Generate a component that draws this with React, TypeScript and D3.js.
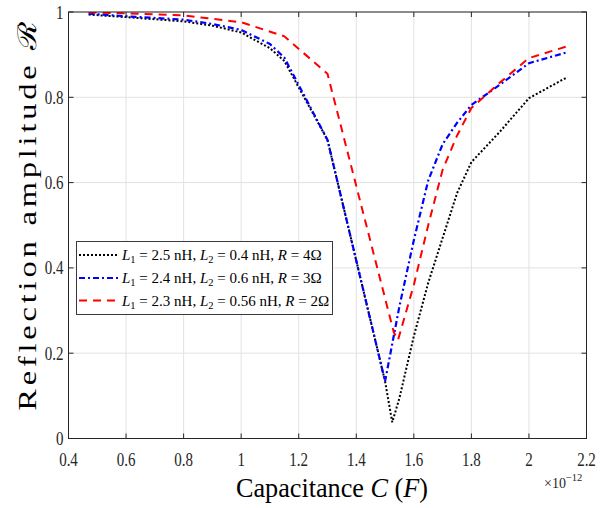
import { useEffect, useRef } from 'react';
import * as d3 from 'd3';

const W = 612;
const H = 508;

// capacitance values are in units of 1e-12 F
const capBlack = [0.47, 0.6, 0.8, 0.9, 1.0, 1.1, 1.15, 1.3, 1.5, 1.525, 1.55, 1.6, 1.65, 1.7, 1.75, 1.8, 1.9, 2.0, 2.13];
const reflBlack = [0.994, 0.988, 0.978, 0.968, 0.952, 0.915, 0.885, 0.7, 0.134, 0.038, 0.095, 0.24, 0.365, 0.47, 0.575, 0.648, 0.72, 0.798, 0.846];

const capBlue = [0.47, 0.6, 0.8, 0.9, 1.0, 1.1, 1.15, 1.3, 1.5, 1.55, 1.6, 1.65, 1.7, 1.75, 1.8, 1.9, 2.0, 2.13];
const reflBlue = [0.996, 0.99, 0.982, 0.972, 0.958, 0.925, 0.893, 0.7, 0.134, 0.31, 0.465, 0.605, 0.69, 0.74, 0.782, 0.83, 0.88, 0.905];

const capRed = [0.47, 0.6, 0.8, 1.0, 1.15, 1.3, 1.53, 1.545, 1.6, 1.65, 1.7, 1.75, 1.8, 1.9, 2.0, 2.13];
const reflRed = [0.999, 0.997, 0.992, 0.976, 0.943, 0.855, 0.25, 0.231, 0.36, 0.5, 0.63, 0.71, 0.775, 0.835, 0.892, 0.919];

const legendL1 = ['2.5', '2.4', '2.3'];
const legendL2 = ['0.4', '0.6', '0.56'];
const legendR = ['4', '3', '2'];

const xTicks = [0.4, 0.6, 0.8, 1, 1.2, 1.4, 1.6, 1.8, 2, 2.2];
const yTicks = [0, 0.2, 0.4, 0.6, 0.8, 1];

const series = [
  { cap: capBlack, refl: reflBlack, color: '#000000', dash: '2,2', width: 2 },
  { cap: capBlue, refl: reflBlue, color: '#0000ff', dash: '6,3,2,3', width: 2.2 },
  { cap: capRed, refl: reflRed, color: '#ff0000', dash: '8,6', width: 2 },
];

const FONT = "'Liberation Serif', 'DejaVu Serif', serif";

export default function App() {
  const svgRef = useRef<SVGSVGElement>(null);

  useEffect(() => {
    if (!svgRef.current) return;
    const svg = d3.select(svgRef.current);
    svg.selectAll('*').remove();

    const axisColor = '#262626';
    const x = d3.scaleLinear().domain([0.4, 2.2]).range([68.5, 586.5]);
    const y = d3.scaleLinear().domain([0, 1]).range([438.5, 12]);
    const [left, right] = x.range();
    const [bottom, top] = y.range();

    svg.append('rect').attr('width', W).attr('height', H).attr('fill', '#fff');

    // grid
    const grid = svg.append('g').attr('stroke', '#e2e2e2').attr('stroke-width', 1);
    xTicks.forEach(t => {
      grid.append('line').attr('x1', x(t)).attr('x2', x(t)).attr('y1', bottom).attr('y2', top);
    });
    yTicks.forEach(t => {
      grid.append('line').attr('x1', left).attr('x2', right).attr('y1', y(t)).attr('y2', y(t));
    });

    // curves
    svg.append('clipPath').attr('id', 'plot-clip')
      .append('rect').attr('x', left).attr('y', top).attr('width', right - left).attr('height', bottom - top);
    const line = d3.line<[number, number]>().x(d => x(d[0])).y(d => y(d[1]));
    series.forEach(s => {
      const pts = s.cap.map((c, i) => [c, s.refl[i]] as [number, number]);
      svg.append('path')
        .datum(pts)
        .attr('clip-path', 'url(#plot-clip)')
        .attr('d', line)
        .attr('fill', 'none')
        .attr('stroke', s.color)
        .attr('stroke-width', s.width)
        .attr('stroke-dasharray', s.dash);
    });

    // box + inward ticks on all sides
    svg.append('rect')
      .attr('x', left).attr('y', top)
      .attr('width', right - left).attr('height', bottom - top)
      .attr('fill', 'none').attr('stroke', axisColor).attr('stroke-width', 1);
    const tk = 5;
    const ticks = svg.append('g').attr('stroke', axisColor).attr('stroke-width', 1);
    xTicks.forEach(t => {
      ticks.append('line').attr('x1', x(t)).attr('x2', x(t)).attr('y1', bottom).attr('y2', bottom - tk);
      ticks.append('line').attr('x1', x(t)).attr('x2', x(t)).attr('y1', top).attr('y2', top + tk);
    });
    yTicks.forEach(t => {
      ticks.append('line').attr('x1', left).attr('x2', left + tk).attr('y1', y(t)).attr('y2', y(t));
      ticks.append('line').attr('x1', right).attr('x2', right - tk).attr('y1', y(t)).attr('y2', y(t));
    });

    // tick labels (figure is a bit stretched vertically)
    const sy = 1.3;
    xTicks.forEach(t => {
      svg.append('text')
        .attr('transform', `translate(${x(t)},466) scale(1,${sy})`)
        .attr('text-anchor', 'middle')
        .attr('font-family', FONT).attr('font-size', 15).attr('fill', axisColor)
        .text(String(t));
    });
    yTicks.forEach(t => {
      svg.append('text')
        .attr('transform', `translate(${left - 5},${y(t) + 6.5}) scale(1,${sy})`)
        .attr('text-anchor', 'end')
        .attr('font-family', FONT).attr('font-size', 15).attr('fill', axisColor)
        .text(String(t));
    });

    // exponent
    const expo = svg.append('text')
      .attr('x', 544).attr('y', 488)
      .attr('font-family', FONT).attr('font-size', 14).attr('fill', axisColor);
    expo.append('tspan').text('×10');
    expo.append('tspan').attr('dy', -7).attr('font-size', 10.5).text('−12');

    // axis titles
    const xl = svg.append('text')
      .attr('text-anchor', 'middle')
      .attr('font-family', FONT).attr('font-size', 26).attr('fill', '#000');
    xl.append('tspan').text('Capacitance ');
    xl.append('tspan').attr('font-style', 'italic').text('C');
    xl.append('tspan').text(' (');
    xl.append('tspan').attr('font-style', 'italic').text('F');
    xl.append('tspan').text(')');
    const xLen = (xl.node() as SVGTextElement).getComputedTextLength() || 192;
    xl.attr('transform', `translate(332,497) scale(${192 / xLen},1.05)`);

    // y title: widened glyphs plus a little spacing to span the measured length
    const yLabel = 'Reflection amplitude ℛ';
    const stretch = 1.25;
    const yl = svg.append('text')
      .attr('text-anchor', 'middle')
      .attr('font-family', FONT).attr('font-size', 26).attr('fill', '#000')
      .text(yLabel);
    const yLen = (yl.node() as SVGTextElement).getComputedTextLength() || 250;
    const spacing = Math.max(0, (390 / stretch - yLen) / (yLabel.length - 1));
    yl.attr('letter-spacing', spacing)
      .attr('transform', `translate(36,${212 + (spacing * stretch) / 2}) rotate(-90) scale(${stretch},1)`);

    // legend
    const lg = svg.append('g');
    lg.append('rect')
      .attr('x', 76.5).attr('y', 241.5).attr('width', 256).attr('height', 73)
      .attr('fill', '#fff').attr('stroke', '#3a3a3a').attr('stroke-width', 1);
    const rowY = [255, 278, 300.5];
    series.forEach((s, i) => {
      lg.append('line')
        .attr('x1', 79).attr('x2', 119).attr('y1', rowY[i]).attr('y2', rowY[i])
        .attr('stroke', s.color).attr('stroke-width', s.width).attr('stroke-dasharray', s.dash);
      const t = lg.append('text')
        .attr('x', 122).attr('y', rowY[i] + 5)
        .attr('font-family', FONT).attr('font-size', 15).attr('fill', '#000');
      t.append('tspan').attr('font-style', 'italic').text('L');
      t.append('tspan').attr('font-size', 10.5).attr('dy', 3).text('1');
      t.append('tspan').attr('dy', -3).text(` = ${legendL1[i]} nH, `);
      t.append('tspan').attr('font-style', 'italic').text('L');
      t.append('tspan').attr('font-size', 10.5).attr('dy', 3).text('2');
      t.append('tspan').attr('dy', -3).text(` = ${legendL2[i]} nH, `);
      t.append('tspan').attr('font-style', 'italic').text('R');
      t.append('tspan').text(` = ${legendR[i]}Ω`);
    });
  }, []);

  return (
    <svg
      ref={svgRef}
      width={W}
      height={H}
      viewBox={`0 0 ${W} ${H}`}
      style={{ position: 'absolute', left: 0, top: 0, display: 'block' }}
    />
  );
}
